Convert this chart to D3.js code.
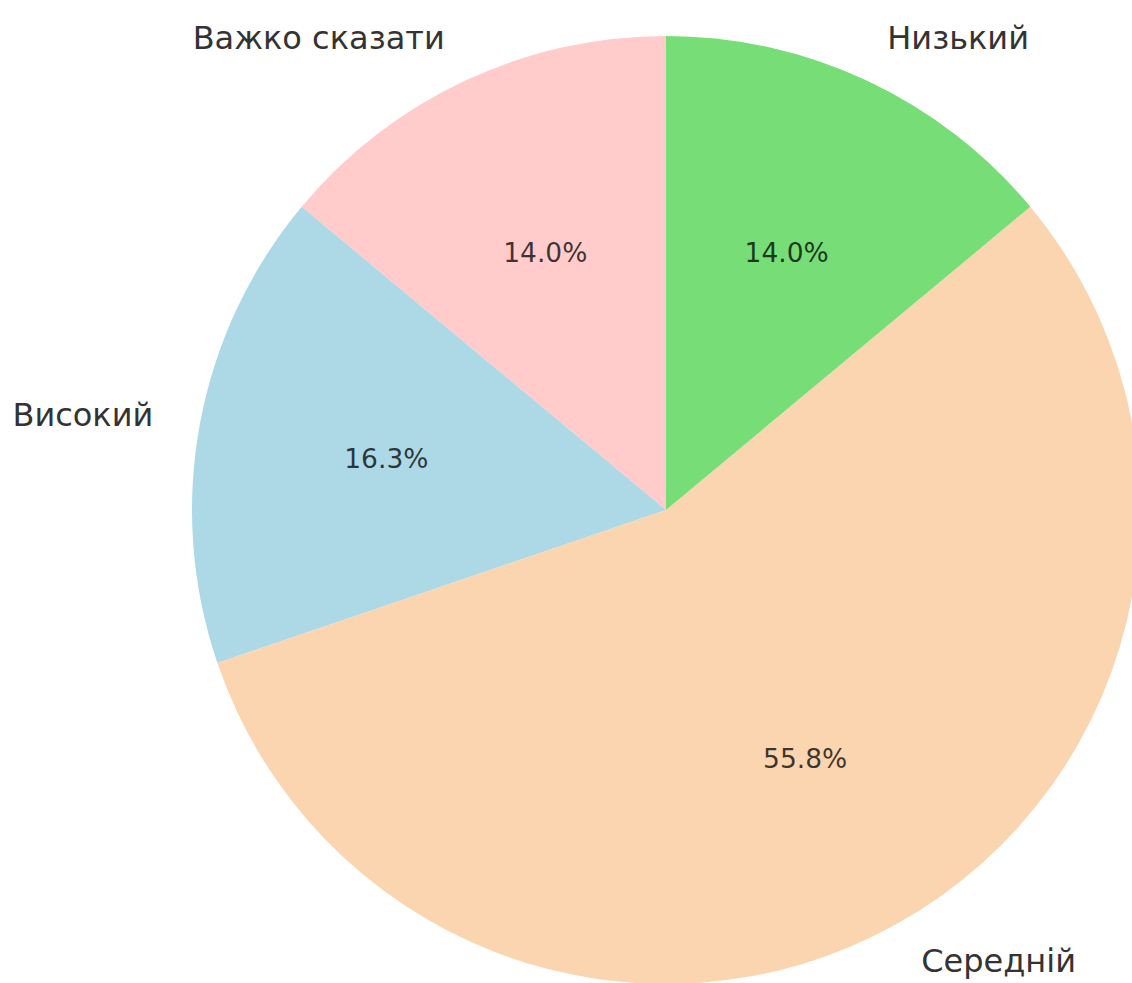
<!DOCTYPE html>
<html>
<head>
<meta charset="utf-8">
<script src="https://cdn.jsdelivr.net/npm/d3@7"></script>
<style>
  html, body { margin: 0; padding: 0; background: #fff; }
  svg { display: block; font-family: "DejaVu Sans", sans-serif; }
</style>
</head>
<body>
<div id="chart-area"></div>
<script>
const labels = ["Важко сказати", "Високий", "Середній", "Низький"],
  counts = [6, 7, 24, 6],
  colors = ["#ffcccb", "#add8e6", "#fbd5b0", "#77dd77"];

const width = 1132,
  height = 983,
  cx = 666,
  cy = 510,
  radius = 474;

const svg = d3
  .select("#chart-area")
  .append("svg")
  .attr("width", width)
  .attr("height", height);

const g = svg.append("g").attr("transform", "translate(" + cx + ", " + cy + ")");

const total = d3.sum(counts);

// counter-clockwise from the top, like matplotlib's default
const pie = d3
  .pie()
  .sort(null)
  .startAngle(0)
  .endAngle(-2 * Math.PI);

const arcs = pie(counts);

const arc = d3.arc().innerRadius(0).outerRadius(radius);

g.selectAll("path.slice")
  .data(arcs)
  .enter()
  .append("path")
  .attr("class", "slice")
  .attr("d", arc)
  .style("fill", (d, i) => colors[i]);

const mid = d => (d.startAngle + d.endAngle) / 2;

//percent labels
g.selectAll("text.pct")
  .data(arcs)
  .enter()
  .append("text")
  .attr("class", "pct")
  .attr("x", d => 0.6 * radius * Math.sin(mid(d)))
  .attr("y", d => -0.6 * radius * Math.cos(mid(d)))
  .attr("text-anchor", "middle")
  .attr("dominant-baseline", "central")
  .style("font-size", "26.5px")
  .style("fill", "#000")
  .style("fill-opacity", 0.75)
  .text(d => d3.format(".1f")((d.value / total) * 100) + "%");

//category labels (kept inside the frame at the bottom)
g.selectAll("text.lbl")
  .data(arcs)
  .enter()
  .append("text")
  .attr("class", "lbl")
  .attr("x", d => 1.1 * radius * Math.sin(mid(d)))
  .attr("y", d => Math.min(-1.1 * radius * Math.cos(mid(d)), height - cy - 22))
  .attr("text-anchor", d => (Math.sin(mid(d)) < 0 ? "end" : "start"))
  .attr("dominant-baseline", "central")
  .style("font-size", "32px")
  .style("fill", "#333")
  .text((d, i) => labels[i]);
</script>
</body>
</html>
